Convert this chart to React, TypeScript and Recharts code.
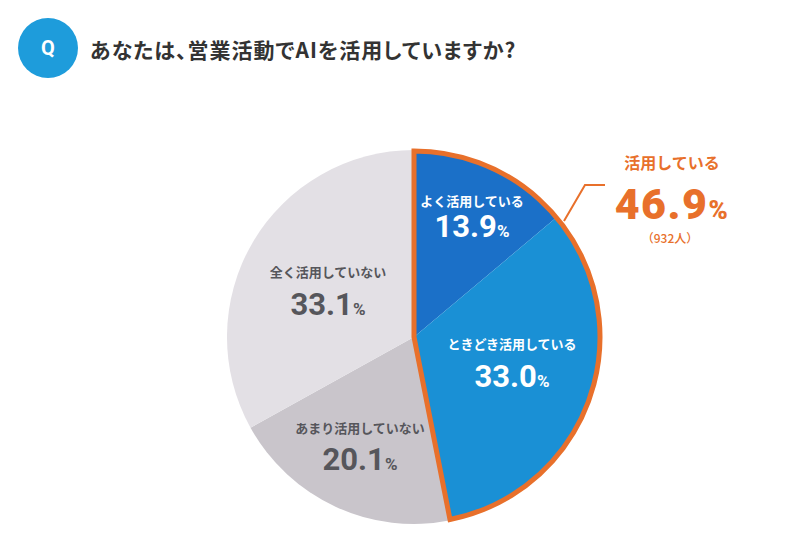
import React from 'react';
import { PieChart, Pie, Cell } from 'recharts';

// ---- data ----
const categories = ['よく活用している', 'ときどき活用している', 'あまり活用していない', '全く活用していない'];
const shares = [13.9, 33.0, 20.1, 33.1];
const groupNames = ['活用している', 'その他'];
const groupShares = [46.9, 53.1];
const groupCount = 932;
const questionText = 'あなたは、営業活動でAIを活用していますか?';

// ---- style ----
const sliceColors = ['#1b70c8', '#1a90d5', '#c9c5cb', '#e3e0e5'];
const labelColors = ['#ffffff', '#ffffff', '#56565b', '#56565b'];
const ORANGE = '#e8702b';
// label offsets relative to pie centre: [dx, label baseline dy, number baseline dy]
const labelOffsets: [number, number, number][] = [
  [58, -131, -100],
  [98, 12, 50],
  [-54, 96, 133],
  [-86, -60, -22],
];

const data = categories.map((name, i) => ({ name, value: shares[i] }));
const groupData = groupNames.map((name, i) => ({ name, value: groupShares[i] }));

const FONT = "Roboto, 'Noto Sans CJK JP', sans-serif";
const JFONT = "'Noto Sans CJK JP', sans-serif";

const renderSliceLabel = (props: any) => {
  const { cx, cy, index, value } = props;
  const [dx, dy1, dy2] = labelOffsets[index];
  const color = labelColors[index];
  return (
    <g key={`lab-${index}`}>
      <text x={cx + dx} y={cy + dy1} textAnchor="middle" fill={color} fontSize={13} fontWeight={700} fontFamily={JFONT}>
        {categories[index]}
      </text>
      <text x={cx + dx} y={cy + dy2} textAnchor="middle" fill={color} fontFamily={FONT} fontWeight={700}>
        <tspan fontSize={31}>{Number(value).toFixed(1)}</tspan>
        <tspan fontSize={17}>%</tspan>
      </text>
    </g>
  );
};

const renderGroupLabel = (props: any) => {
  const { cx, cy, index, value } = props;
  if (index !== 0) return <g key={`g-${index}`} />;
  return (
    <g key={`g-${index}`}>
      <polyline
        points={`${cx + 150},${cy - 116} ${cx + 171},${cy - 152} ${cx + 191},${cy - 152}`}
        fill="none"
        stroke={ORANGE}
        strokeWidth={2}
      />
      <text x={cx + 258} y={cy - 168} textAnchor="middle" fill={ORANGE} fontSize={16} fontWeight={700} fontFamily={JFONT}>
        {groupNames[0]}
      </text>
      <text x={cx + 258} y={cy - 118} textAnchor="middle" fill={ORANGE} fontWeight={900} fontFamily={FONT} letterSpacing={1.5}>
        <tspan fontSize={43}>{Number(value).toFixed(1)}</tspan>
        <tspan fontSize={26}>%</tspan>
      </text>
      <text x={cx + 256} y={cy - 94} textAnchor="middle" fill={ORANGE} fontSize={12} fontWeight={500} fontFamily={JFONT}>
        {`（${groupCount}人）`}
      </text>
    </g>
  );
};

export default function App() {
  return (
    <div style={{ position: 'absolute', left: 0, top: 0, width: 800, height: 560, background: '#fff', fontFamily: FONT }}>
      <div
        style={{
          position: 'absolute',
          left: 18,
          top: 18,
          width: 60,
          height: 60,
          borderRadius: '50%',
          background: '#1e9cdb',
          color: '#fff',
          fontSize: 20,
          fontWeight: 700,
          display: 'flex',
          alignItems: 'center',
          justifyContent: 'center',
          fontFamily: FONT,
        }}
      >
        Q
      </div>
      <div
        style={{
          position: 'absolute',
          left: 90,
          top: 34,
          fontSize: 21,
          fontWeight: 700,
          color: '#333333',
          lineHeight: '30px',
          whiteSpace: 'nowrap',
          fontFamily: JFONT,
          fontFeatureSettings: '"palt"',
          letterSpacing: 1,
        }}
      >
        {questionText}
      </div>
      <div style={{ position: 'absolute', left: 0, top: 0 }}>
        <PieChart width={800} height={560} margin={{ top: 0, right: 0, bottom: 0, left: 0 }}>
          <Pie
            data={data}
            dataKey="value"
            nameKey="name"
            cx={414}
            cy={337}
            outerRadius={187}
            startAngle={90}
            endAngle={-270}
            isAnimationActive={false}
            label={renderSliceLabel}
            labelLine={false}
            stroke="none"
          >
            {data.map((d, i) => (
              <Cell key={d.name} fill={sliceColors[i]} stroke="none" />
            ))}
          </Pie>
          <Pie
            data={groupData}
            dataKey="value"
            nameKey="name"
            cx={414}
            cy={337}
            outerRadius={186}
            startAngle={90}
            endAngle={-270}
            isAnimationActive={false}
            label={renderGroupLabel}
            labelLine={false}
          >
            {groupData.map((d, i) => (
              <Cell
                key={d.name}
                fill="none"
                stroke={i === 0 ? ORANGE : 'none'}
                strokeWidth={i === 0 ? 5 : 0}
                strokeLinejoin="miter"
              />
            ))}
          </Pie>
        </PieChart>
      </div>
    </div>
  );
}
